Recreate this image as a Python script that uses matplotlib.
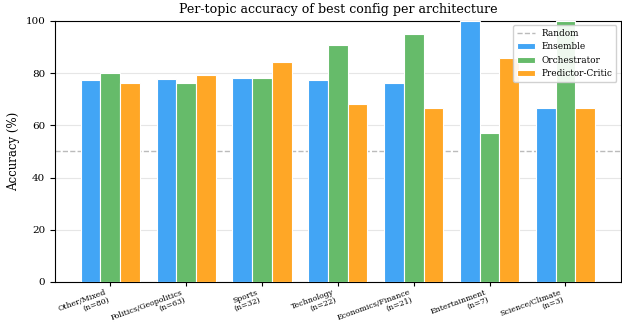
import matplotlib
matplotlib.use("Agg")
import matplotlib.pyplot as plt
import numpy as np

plt.rcParams['font.family'] = ['DejaVu Serif']

topics = ["Other/Mixed\n(n=80)", "Politics/Geopolitics\n(n=63)", "Sports\n(n=32)",
          "Technology\n(n=22)", "Economics/Finance\n(n=21)", "Entertainment\n(n=7)",
          "Science/Climate\n(n=3)"]
ensemble = [77.5, 77.8, 78.1, 77.3, 76.2, 100.0, 66.7]
orchestrator = [80.0, 76.2, 78.1, 90.9, 95.2, 57.1, 100.0]
predictor_critic = [76.25, 79.4, 84.4, 68.2, 66.7, 85.7, 66.7]

fig = plt.figure(figsize=(6.22, 3.23), dpi=100)
ax = fig.add_axes([0.0884, 0.127, 0.9096, 0.808])

x = np.arange(len(topics))
w = 0.26
ax.axhline(50, color="#bbbbbb", linestyle="--", linewidth=1, label="Random", zorder=2)
ax.bar(x - w, ensemble, w, color="#42A5F5", edgecolor="white", linewidth=0.8, label="Ensemble", zorder=3)
ax.bar(x, orchestrator, w, color="#66BB6A", edgecolor="white", linewidth=0.8, label="Orchestrator", zorder=3)
ax.bar(x + w, predictor_critic, w, color="#FFA726", edgecolor="white", linewidth=0.8, label="Predictor-Critic", zorder=3)

ax.set_ylim(0, 100)
ax.set_xticks(x)
ax.set_xticklabels(topics, rotation=20, ha="right", fontsize=5.6, linespacing=0.95)
ax.tick_params(axis="x", length=3, pad=1.5)
ax.tick_params(axis="y", labelsize=7.5)
ax.set_ylabel("Accuracy (%)", fontsize=8.5)
ax.set_title("Per-topic accuracy of best config per architecture", fontsize=9.1)
ax.yaxis.grid(True, color="#e6e6e6", linewidth=0.8, zorder=0)
ax.set_axisbelow(True)

ax.legend(loc="upper right", fontsize=6.4, framealpha=0.9)

fig.savefig("out.png", dpi=100)
